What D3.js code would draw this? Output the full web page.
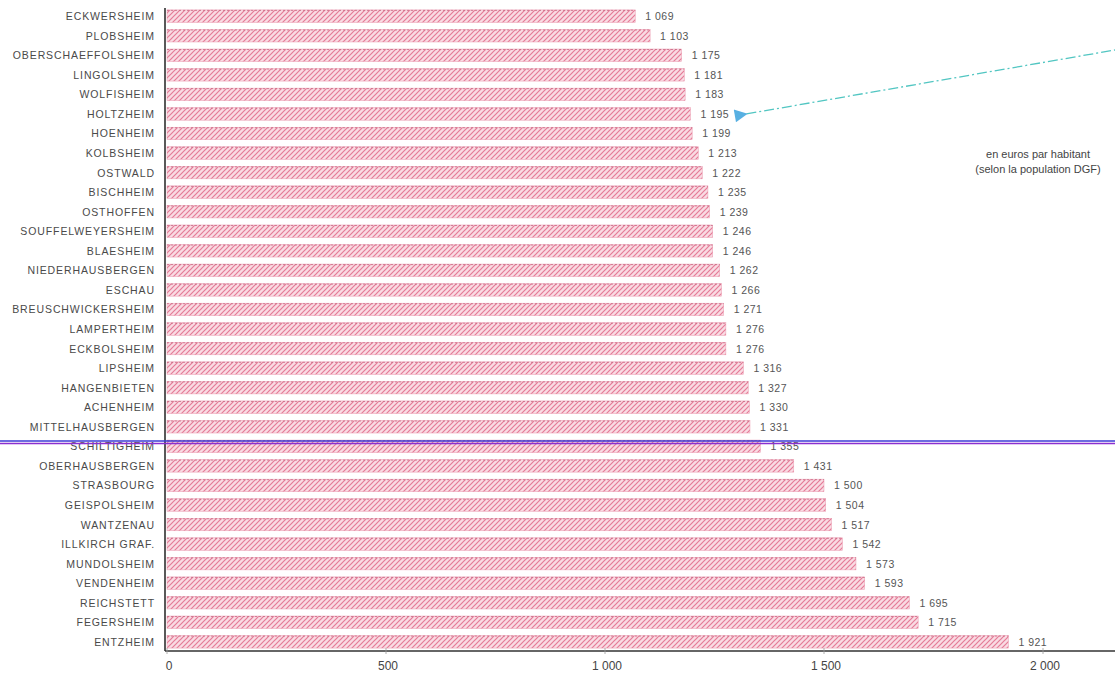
<!DOCTYPE html>
<html><head><meta charset="utf-8">
<script src="https://cdn.jsdelivr.net/npm/d3@7"></script>
<style>body{margin:0;background:#fff}svg{display:block}</style>
</head><body>
<script>
const communes = ["ECKWERSHEIM","PLOBSHEIM","OBERSCHAEFFOLSHEIM","LINGOLSHEIM","WOLFISHEIM","HOLTZHEIM","HOENHEIM","KOLBSHEIM","OSTWALD","BISCHHEIM","OSTHOFFEN","SOUFFELWEYERSHEIM","BLAESHEIM","NIEDERHAUSBERGEN","ESCHAU","BREUSCHWICKERSHEIM","LAMPERTHEIM","ECKBOLSHEIM","LIPSHEIM","HANGENBIETEN","ACHENHEIM","MITTELHAUSBERGEN","SCHILTIGHEIM","OBERHAUSBERGEN","STRASBOURG","GEISPOLSHEIM","WANTZENAU","ILLKIRCH GRAF.","MUNDOLSHEIM","VENDENHEIM","REICHSTETT","FEGERSHEIM","ENTZHEIM"];
const valeurs = [1069,1103,1175,1181,1183,1195,1199,1213,1222,1235,1239,1246,1246,1262,1266,1271,1276,1276,1316,1327,1330,1331,1355,1431,1500,1504,1517,1542,1573,1593,1695,1715,1921];
const ticks = [0,500,1000,1500,2000];
const tickLabels = ["0","500","1 000","1 500","2 000"];
const note = ["en euros par habitant","(selon la population DGF)"];
const highlighted = "SCHILTIGHEIM";
const pointed = "HOLTZHEIM";

const W=1115,H=677;
const svg=d3.select("body").append("svg").attr("width",W).attr("height",H);
const defs=svg.append("defs");
const pat=defs.append("pattern").attr("id","hatch").attr("patternUnits","userSpaceOnUse")
  .attr("width",5).attr("height",5);
pat.append("rect").attr("width",5).attr("height",5).attr("fill","#f9dbe3");
pat.append("path").attr("d","M-1,6 L6,-1 M-1,1 L1,-1 M4,6 L6,4").attr("stroke","#e57b97").attr("stroke-width",1.2);

const x=d3.scaleLinear().domain([0,2000]).range([167,1043]);
const y=d3.scaleBand().domain(communes).range([6,652]).paddingInner(0.36).paddingOuter(0.2);

const data=communes.map((c,i)=>({c,v:valeurs[i]}));

const bars=svg.append("g");
bars.selectAll("rect").data(data).join("rect")
  .attr("x",x(0)).attr("y",d=>y(d.c)).attr("width",d=>x(d.v)-x(0)).attr("height",y.bandwidth())
  .attr("fill","url(#hatch)").attr("stroke","#eb9ab0").attr("stroke-width",0.5);
bars.selectAll("line").data(data).join("line")
  .attr("x1",x(0)).attr("x2",d=>x(d.v)).attr("y1",d=>y(d.c)+0.5).attr("y2",d=>y(d.c)+0.5)
  .attr("stroke","#c86a84").attr("stroke-width",0.8).attr("stroke-dasharray","2,2");

// value labels
const fmt=v=>d3.format(",")(v).replace(","," ");
svg.append("g").selectAll("text").data(data).join("text")
  .attr("x",d=>x(d.v)+10).attr("y",d=>y(d.c)+y.bandwidth()/2+4)
  .attr("font-family","Liberation Sans, Arial, sans-serif").attr("font-size",10.5)
  .attr("letter-spacing","0.5").attr("fill","#555").text(d=>fmt(d.v));

// category labels
svg.append("g").selectAll("text").data(data).join("text")
  .attr("x",155).attr("y",d=>y(d.c)+y.bandwidth()/2+4).attr("text-anchor","end")
  .attr("font-family","Liberation Sans, Arial, sans-serif").attr("font-size",10.5)
  .attr("letter-spacing","0.9").attr("fill","#4a4a4a").text(d=>d.c);

// axes lines
svg.append("line").attr("x1",165).attr("x2",165).attr("y1",8).attr("y2",651).attr("stroke","#222").attr("stroke-width",1.5);
svg.append("line").attr("x1",165).attr("x2",W).attr("y1",651).attr("y2",651).attr("stroke","#333").attr("stroke-width",1.3);

const xa=svg.append("g");
xa.selectAll("line").data(ticks).join("line").attr("x1",d=>x(d)).attr("x2",d=>x(d)).attr("y1",648).attr("y2",654).attr("stroke","#999").attr("stroke-width",0.8);
xa.selectAll("text").data(ticks).join("text").attr("x",d=>x(d)+2).attr("y",670).attr("text-anchor","middle")
  .attr("font-family","Liberation Sans, Arial, sans-serif").attr("font-size",12).attr("fill","#444")
  .text((d,i)=>tickLabels[i]);

// highlight line
const hy=y(highlighted)+2;
svg.append("line").attr("x1",0).attr("x2",W).attr("y1",hy-1).attr("y2",hy-1).attr("stroke","#3b3bd6").attr("stroke-width",1.4);
svg.append("line").attr("x1",0).attr("x2",W).attr("y1",hy+1.5).attr("y2",hy+1.5).attr("stroke","#8a2fd0").attr("stroke-width",1.4);

// arrow
const ay=y(pointed)+y.bandwidth()/2;
const ax=x(valeurs[communes.indexOf(pointed)])+56;
defs.append("marker").attr("id","arr").attr("viewBox","0 0 10 10").attr("refX",1).attr("refY",5)
  .attr("markerWidth",18).attr("markerHeight",13).attr("markerUnits","userSpaceOnUse").attr("orient","auto-start-reverse")
  .append("path").attr("d","M0,5 L10,0 L10,10 Z").attr("fill","#58b0e2");
svg.append("line").attr("x1",ax).attr("y1",ay).attr("x2",W).attr("y2",50)
  .attr("stroke","#52c6c2").attr("stroke-width",1.3).attr("stroke-dasharray","10,3,2,3")
  .attr("marker-start","url(#arr)");

svg.append("g").selectAll("text").data(note).join("text")
  .attr("x",1038).attr("y",(d,i)=>158+i*15).attr("text-anchor","middle")
  .attr("font-family","Liberation Sans, Arial, sans-serif").attr("font-size",11).attr("fill","#444").text(d=>d);
</script>
</body></html>
